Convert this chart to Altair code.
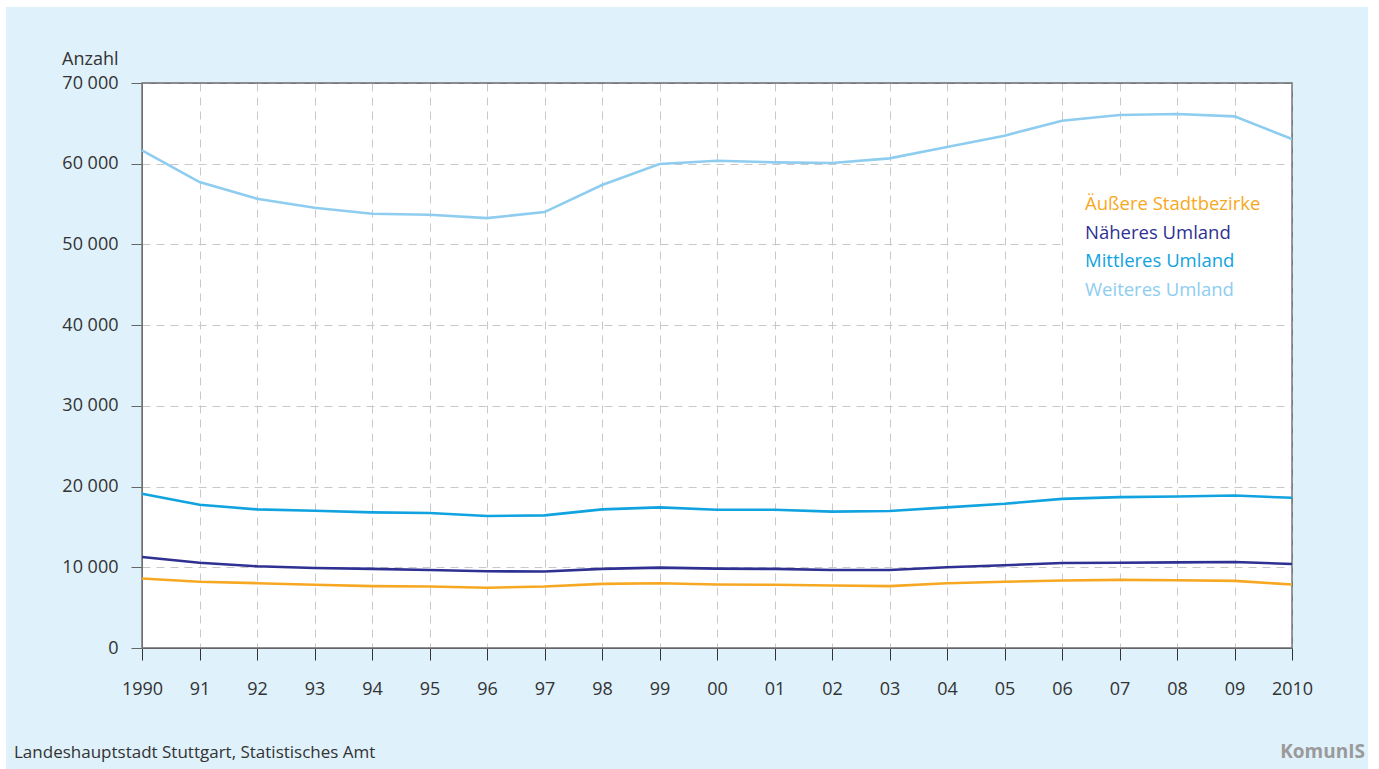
import altair as alt
import pandas as pd

years = ["1990", "91", "92", "93", "94", "95", "96", "97", "98", "99", "00",
         "01", "02", "03", "04", "05", "06", "07", "08", "09", "2010"]

series_names = ["Äußere Stadtbezirke", "Näheres Umland", "Mittleres Umland", "Weiteres Umland"]
series_colors = ["#f7a823", "#2e3192", "#10a3df", "#8ecdf0"]

aeussere = [8610, 8200, 8030, 7830, 7660, 7620, 7460, 7620, 7950, 8030, 7870,
            7830, 7750, 7660, 8030, 8200, 8360, 8440, 8400, 8320, 7870]
naeheres = [11270, 10570, 10120, 9920, 9800, 9670, 9510, 9470, 9800, 9960, 9840,
            9800, 9670, 9670, 10000, 10250, 10530, 10570, 10610, 10660, 10410]
mittleres = [19100, 17750, 17170, 17010, 16800, 16720, 16350, 16430, 17170, 17420, 17130,
             17130, 16890, 16970, 17420, 17870, 18480, 18690, 18770, 18890, 18610]
weiteres = [61650, 57730, 55660, 54550, 53800, 53680, 53260, 54010, 57360, 59960, 60370,
            60170, 60080, 60660, 62070, 63470, 65330, 66030, 66160, 65870, 63060]

y_ticks = [0, 10000, 20000, 30000, 40000, 50000, 60000, 70000]

FONT = "Open Sans"

rows = []
for name, vals in zip(series_names, [aeussere, naeheres, mittleres, weiteres]):
    for yr, v in zip(years, vals):
        rows.append({"year": yr, "value": v, "series": name})
df = pd.DataFrame(rows)
legend_df = pd.DataFrame({"series": series_names})

color_scale = alt.Scale(domain=series_names, range=series_colors)

lines = alt.Chart(df).mark_line(strokeWidth=2.6).encode(
    x=alt.X("year:O", sort=years, scale=alt.Scale(padding=0),
            axis=alt.Axis(title=None, labelAngle=0, tickSize=12, labelPadding=20,
                          domainColor="#333333", tickColor="#333333",
                          grid=True, gridColor="#c8c8c8", gridDash=[8, 6], gridWidth=1)),
    y=alt.Y("value:Q", scale=alt.Scale(domain=[0, 70000], nice=False),
            axis=alt.Axis(values=y_ticks, title="Anzahl", titleAngle=0, titleAlign="right",
                          titleBaseline="middle", titleX=-24, titleY=-24,
                          titleFont=FONT, titleFontSize=18, titleFontWeight="normal",
                          titleColor="#333333",
                          labelExpr="datum.value == 0 ? '0' : format(datum.value / 1000, 'd') + ' 000'",
                          tickSize=11, labelPadding=13, domainColor="#666666", tickColor="#666666",
                          grid=True, gridColor="#c8c8c8", gridDash=[8, 6], gridWidth=1)),
    color=alt.Color("series:N", scale=color_scale, legend=None),
    detail="series:N",
)

legend_box = alt.Chart(pd.DataFrame({"a": [0]})).mark_rect(color="white").encode(
    x=alt.value(922), x2=alt.value(1149), y=alt.value(97), y2=alt.value(240))

border = alt.Chart(pd.DataFrame({"a": [0]})).mark_rect(
    fill="transparent", stroke="#777777", strokeWidth=1.3).encode(
    x=alt.value(0), x2=alt.value(1150), y=alt.value(0), y2=alt.value(565))

legend_text = alt.Chart(legend_df).mark_text(align="left", baseline="middle",
                                             font=FONT, fontSize=18.5).encode(
    x=alt.value(943),
    y=alt.Y("series:N", sort=series_names, scale=alt.Scale(range=[121, 207], padding=0),
            axis=None),
    text="series:N",
    color=alt.Color("series:N", scale=color_scale, legend=None),
)

source = alt.Chart(pd.DataFrame({"t": ["Landeshauptstadt Stuttgart, Statistisches Amt"]})).mark_text(
    align="left", baseline="middle", font=FONT, fontSize=17, color="#333333").encode(
    x=alt.value(-128), y=alt.value(670), text="t:N")

logo = alt.Chart(pd.DataFrame({"t": ["KomunIS"]})).mark_text(
    align="right", baseline="middle", font=FONT, fontSize=19, fontWeight="bold",
    color="#9a9a9a").encode(x=alt.value(1223), y=alt.value(669), text="t:N")

white_left = alt.Chart(pd.DataFrame({"a": [0]})).mark_rect(color="white").encode(
    x=alt.value(-142), x2=alt.value(-136), y=alt.value(-83), y2=alt.value(686))
white_top = alt.Chart(pd.DataFrame({"a": [0]})).mark_rect(color="white").encode(
    x=alt.value(-142), x2=alt.value(1237), y=alt.value(-83), y2=alt.value(-76))
white_right = alt.Chart(pd.DataFrame({"a": [0]})).mark_rect(color="white").encode(
    x=alt.value(1226), x2=alt.value(1237), y=alt.value(-83), y2=alt.value(686))

chart = alt.layer(
    white_left, white_top, white_right, legend_box, border, lines, legend_text, source, logo
).resolve_scale(y="independent").properties(
    width=1150, height=565,
    autosize=alt.AutoSizeParams(type="none"),
    padding={"left": 142, "top": 83, "right": 87, "bottom": 121},
    background="#dff1fb",
).configure_view(
    fill="white", stroke="#777777", strokeWidth=1.2
).configure_axis(
    labelFont=FONT, labelFontSize=18, labelColor="#333333"
)

chart.save("out.html", embed_options={"renderer": "svg", "actions": False})
